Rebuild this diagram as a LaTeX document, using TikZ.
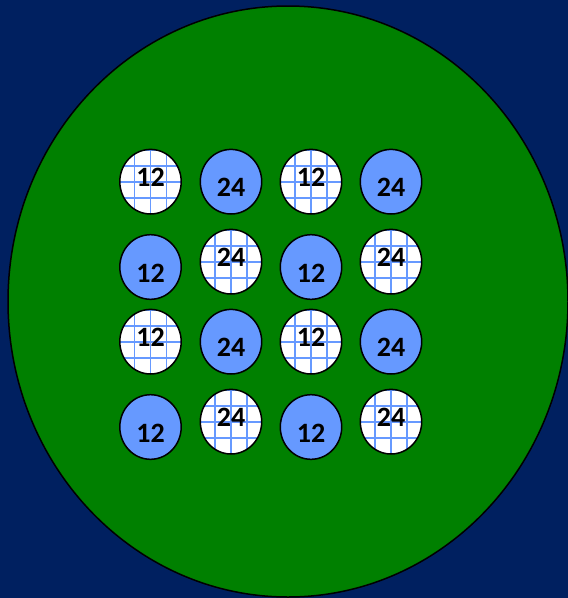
\documentclass[tikz,border=0pt]{standalone}
\usepackage{fontspec}
\setmainfont{Carlito}
\usetikzlibrary{shapes.geometric,positioning}
\definecolor{navy}{RGB}{0,32,96}
\definecolor{core}{RGB}{0,128,0}
\definecolor{pinblue}{RGB}{102,153,255}
\tikzset{
  num/.style={font=\fontsize{28}{28}\selectfont\bfseries,inner sep=0pt},
  pin/.style={ellipse,draw=black,line width=1.5pt,inner sep=0pt,
              minimum width=61.4pt,minimum height=64.6pt},
  solidpin/.style={pin,fill=pinblue,label={[num,yshift=-6pt]center:#1}},
  meshpin/.style={pin,fill=white,label={[num,yshift=4pt]center:#1},
    path picture={
      \begin{scope}[shift={(path picture bounding box.center)},x=1pt,y=1pt]
        \foreach \d in {-32,-16,0,16,32}{
          \draw[pinblue,line width=1.8pt] (\d,-40) -- (\d,40);
          \draw[pinblue,line width=1.8pt] (-40,\d) -- (40,\d);
        }
      \end{scope}}},
}
\begin{document}
\begin{tikzpicture}[x=1pt,y=1pt]
  % background and vessel
  \fill[navy] (0,0) rectangle (568,-598);
  \useasboundingbox (0,0) rectangle (568,-598);
  \draw[fill=core,line width=1.5pt] (288,-301.5) ellipse [x radius=280,y radius=295.5];

  % row 1
  \node[meshpin=12]  (p11) at (150.5,-181.7) {};
  \node[solidpin=24] (p12) at (231,-181.7) {};
  \node[meshpin=12]  (p13) at (311,-181.7) {};
  \node[solidpin=24] (p14) at (391,-181.7) {};

  % row 2
  \node[solidpin=12] (p21) at (150.5,-267) {};
  \node[meshpin=24]  (p22) at (231,-261.7) {};
  \node[solidpin=12] (p23) at (311,-267) {};
  \node[meshpin=24]  (p24) at (391,-261.7) {};

  % row 3
  \node[meshpin=12]  (p31) at (150.5,-341.7) {};
  \node[solidpin=24] (p32) at (231,-341.7) {};
  \node[meshpin=12]  (p33) at (311,-341.7) {};
  \node[solidpin=24] (p34) at (391,-341.7) {};

  % row 4
  \node[solidpin=12] (p41) at (150.5,-427) {};
  \node[meshpin=24]  (p42) at (231,-421.7) {};
  \node[solidpin=12] (p43) at (311,-427) {};
  \node[meshpin=24]  (p44) at (391,-421.7) {};
\end{tikzpicture}
\end{document}
